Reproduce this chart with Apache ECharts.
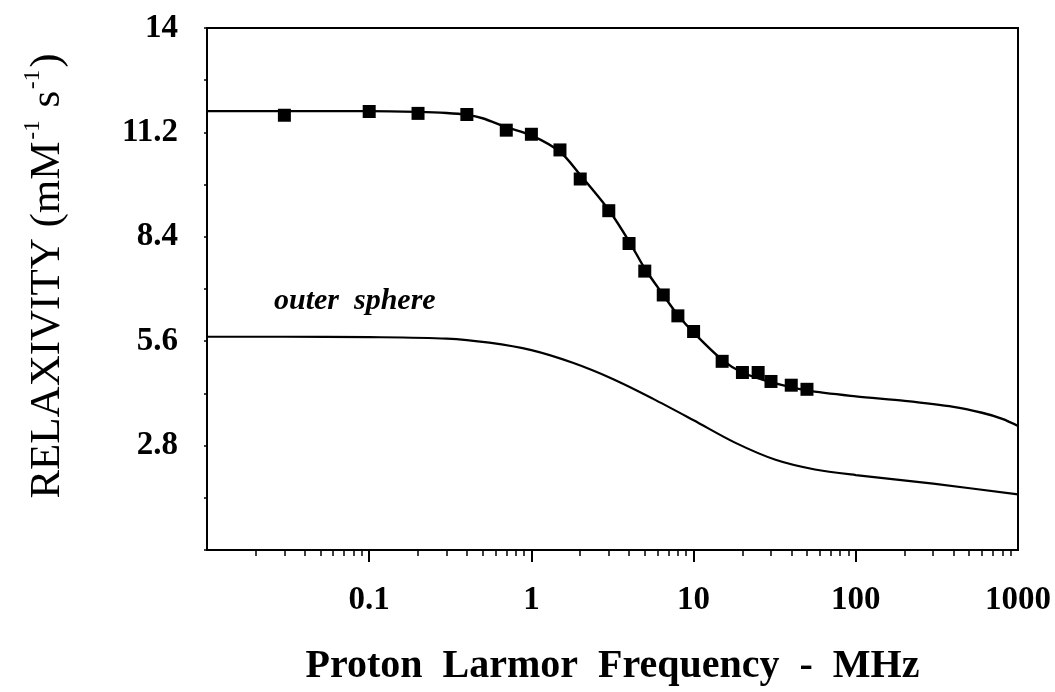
<!DOCTYPE html>
<html>
<head>
<meta charset="utf-8">
<script src="https://cdn.jsdelivr.net/npm/echarts@6/dist/echarts.min.js"></script>
<style>
  html, body { margin: 0; padding: 0; background: #ffffff; }
  #chart { width: 1055px; height: 692px; }
</style>
</head>
<body>
<div id="chart"></div>
<script>
// Measured relaxivity (mM^-1 s^-1) against proton Larmor frequency (MHz)
const measuredFreq = [0.03, 0.1, 0.2, 0.4, 0.7, 1, 1.5, 2, 3, 4, 5, 6.5, 8, 10, 15, 20, 25, 30, 40, 50];
const measuredR1 = [11.66, 11.76, 11.71, 11.68, 11.26, 11.15, 10.73, 9.95, 9.10, 8.22, 7.48, 6.84, 6.28, 5.86, 5.06, 4.76, 4.76, 4.52, 4.42, 4.31];

// Fitted total relaxivity profile
const fitFreq = [0.01, 0.05, 0.1, 0.2, 0.3, 0.4, 0.5, 0.7, 1, 1.5, 2, 3, 4, 5, 6.5, 8, 10, 15, 20, 30, 50, 100, 200, 400, 600, 800, 1000];
const fitR1 = [11.77, 11.77, 11.77, 11.75, 11.72, 11.67, 11.58, 11.34, 11.12, 10.68, 10.06, 9.12, 8.28, 7.55, 6.84, 6.30, 5.83, 5.10, 4.76, 4.50, 4.28, 4.12, 4.00, 3.84, 3.68, 3.52, 3.33];

// Outer-sphere contribution
const outerFreq = [0.01, 0.03, 0.1, 0.3, 0.55, 1, 1.8, 3.2, 5.6, 10, 18, 32, 56, 100, 300, 1000];
const outerR1 = [5.72, 5.72, 5.71, 5.67, 5.56, 5.36, 5.02, 4.58, 4.06, 3.48, 2.88, 2.42, 2.16, 2.01, 1.78, 1.49];

// Axis ticks
const decadeTicks = [0.1, 1, 10, 100];
const xTickLabels = [0.1, 1, 10, 100, 1000];
const minorTicks = [];
[0.01, 0.1, 1, 10, 100].forEach(d => {
  for (let k = 2; k <= 9; k++) minorTicks.push(+(d * k).toPrecision(3));
});
const yTickLabels = [2.8, 5.6, 8.4, 11.2, 14];

const serif = "'Liberation Serif', 'Times New Roman', 'DejaVu Serif', serif";

const pairs = (xs, ys) => xs.map((x, i) => [x, ys[i]]);

const chart = echarts.init(document.getElementById('chart'), null, { renderer: 'canvas' });

chart.setOption({
  backgroundColor: '#ffffff',
  animation: false,
  grid: {
    left: 207, right: 37, top: 28, bottom: 138,
    show: true, borderColor: '#000', borderWidth: 2, backgroundColor: 'transparent'
  },
  xAxis: [
    {
      type: 'log', logBase: 10, min: 0.01, max: 1000, position: 'bottom',
      name: 'Proton  Larmor  Frequency  -  MHz',
      nameLocation: 'middle', nameGap: 97,
      nameTextStyle: { fontFamily: serif, fontWeight: 'bold', fontSize: 40, color: '#000' },
      axisLine: { show: true, lineStyle: { color: '#000', width: 2 } },
      axisTick: { show: true, inside: false, length: 12, lineStyle: { color: '#000', width: 2 }, customValues: decadeTicks },
      axisLabel: {
        show: true, margin: 34, fontFamily: serif, fontWeight: 'bold', fontSize: 33, color: '#000',
        customValues: xTickLabels,
        formatter: v => String(+v.toPrecision(3))
      },
      splitLine: { show: false }
    },
    {
      type: 'log', logBase: 10, min: 0.01, max: 1000, position: 'bottom', offset: 0,
      axisLine: { show: false },
      axisTick: { show: true, inside: false, length: 6, lineStyle: { color: '#000', width: 1.5 }, customValues: minorTicks },
      axisLabel: { show: false },
      splitLine: { show: false }
    }
  ],
  yAxis: {
    type: 'value', min: 0, max: 14, interval: 2.8,
    name: '{m|RELAXIVITY (mM}{s|-1}{m| s}{s|-1}{m|)}',
    nameLocation: 'middle', nameGap: 138, nameRotate: 90,
    nameTextStyle: {
      padding: [0, 0, 0, 26],
      rich: {
        m: { fontFamily: serif, fontSize: 43, color: '#000', lineHeight: 48, verticalAlign: 'bottom' },
        s: { fontFamily: serif, fontSize: 23, color: '#000', lineHeight: 48, verticalAlign: 'top', padding: [0, 2, 0, 2] }
      }
    },
    axisLine: { show: true, lineStyle: { color: '#000', width: 2 } },
    axisTick: { show: true, inside: false, length: 3, lineStyle: { color: '#000', width: 1.5 } },
    minorTick: { show: true, splitNumber: 2, length: 3, lineStyle: { color: '#000', width: 1.5 } },
    axisLabel: {
      margin: 29, fontFamily: serif, fontWeight: 'bold', fontSize: 33, color: '#000',
      customValues: yTickLabels,
      formatter: v => String(+v.toFixed(1))
    },
    splitLine: { show: false }
  },
  graphic: [
    {
      type: 'text', left: 274, top: 286, z: 10,
      style: { text: 'outer  sphere', fontFamily: serif, fontStyle: 'italic', fontWeight: 'bold', fontSize: 30, fill: '#000' }
    }
  ],
  series: [
    {
      name: 'fit', type: 'line', data: pairs(fitFreq, fitR1),
      smooth: 0.3, showSymbol: false, symbol: 'none',
      lineStyle: { color: '#000', width: 2.4 }, z: 2
    },
    {
      name: 'outer sphere', type: 'line', data: pairs(outerFreq, outerR1),
      smooth: 0.3, showSymbol: false, symbol: 'none',
      lineStyle: { color: '#000', width: 2.2 }, z: 2
    },
    {
      name: 'measured', type: 'scatter', data: pairs(measuredFreq, measuredR1),
      symbol: 'rect', symbolSize: 13,
      itemStyle: { color: '#000', opacity: 1 }, z: 3
    }
  ]
});
</script>
</body>
</html>
